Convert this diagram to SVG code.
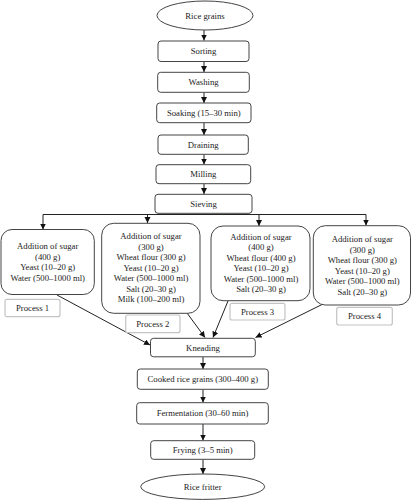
<svg xmlns="http://www.w3.org/2000/svg" width="412" height="500" viewBox="0 0 412 500">
<defs>
<marker id="ah" markerUnits="userSpaceOnUse" markerWidth="7" markerHeight="7" refX="6" refY="3" orient="auto">
<path d="M0,0 L6,3 L0,6 z" fill="#111"/>
</marker>
<style>
.bg{fill:#fff}
.step{fill:#fff;stroke:#444;stroke-width:1}
.ing{fill:#fff;stroke:#444;stroke-width:1}
.proc{fill:#fff;stroke:#c4c4c4;stroke-width:1.2}
text{font-family:"Liberation Serif","Times New Roman",serif;font-size:8.7px;fill:#222;text-anchor:middle}
.con line,.con polyline{stroke:#222;stroke-width:1;fill:none}
.con .a{marker-end:url(#ah)}
</style>
</defs>
<rect class="bg" x="0" y="0" width="412" height="500"/>

<g class="con" id="connectors">
<line class="a" x1="204" y1="30" x2="204" y2="40.5"/>
<line class="a" x1="204" y1="61.5" x2="204" y2="72"/>
<line class="a" x1="204" y1="92.5" x2="204" y2="103"/>
<line class="a" x1="204" y1="122.5" x2="204" y2="135"/>
<line class="a" x1="204" y1="154.5" x2="204" y2="164.5"/>
<line class="a" x1="204" y1="183.5" x2="204" y2="194"/>
<line x1="43" y1="214.5" x2="366" y2="214.5"/>
<line class="a" x1="43" y1="214.5" x2="43" y2="229.5"/>
<line class="a" x1="147.5" y1="214.5" x2="147.5" y2="223"/>
<line class="a" x1="259" y1="214.5" x2="259" y2="226"/>
<line class="a" x1="366" y1="214.5" x2="366" y2="225.5"/>
<line class="a" x1="57" y1="295" x2="150" y2="345"/>
<line class="a" x1="187" y1="313" x2="205" y2="337.5"/>
<line class="a" x1="228" y1="301" x2="213" y2="337.5"/>
<line class="a" x1="322" y1="304.5" x2="255.5" y2="337.5"/>
<line class="a" x1="203" y1="357" x2="203" y2="369"/>
<line class="a" x1="203" y1="389.5" x2="203" y2="402.5"/>
<line class="a" x1="203" y1="424" x2="203" y2="440.5"/>
<line class="a" x1="203" y1="459.5" x2="203" y2="474"/>
</g>

<g id="rice-grains"><ellipse class="step" cx="205" cy="15.5" rx="48" ry="14.5"/><text x="205" y="18.5">Rice grains</text></g>
<g id="sorting"><rect class="step" x="158" y="41" width="91" height="20.5" rx="3"/><text x="203.5" y="54.2">Sorting</text></g>
<g id="washing"><rect class="step" x="157.7" y="72.3" width="91.6" height="20" rx="3"/><text x="203.5" y="85.3">Washing</text></g>
<g id="soaking"><rect class="step" x="156.7" y="103" width="94.3" height="19.7" rx="3"/><text x="203.8" y="115.8">Soaking (15–30 min)</text></g>
<g id="draining"><rect class="step" x="158" y="135" width="90.3" height="19.3" rx="3"/><text x="203.2" y="147.6">Draining</text></g>
<g id="milling"><rect class="step" x="156" y="164.7" width="94.7" height="19" rx="3"/><text x="203.3" y="177.2">Milling</text></g>
<g id="sieving"><rect class="step" x="155" y="194.3" width="97" height="19" rx="3"/><text x="203.5" y="206.8">Sieving</text></g>

<g id="mix1"><rect class="ing" x="1" y="229.5" width="93.3" height="65" rx="11"/>
<text x="47.7" y="249">Addition of sugar</text>
<text x="47.7" y="259.5">(400 g)</text>
<text x="47.7" y="270">Yeast (10–20 g)</text>
<text x="47.7" y="280.5">Water (500–1000 ml)</text></g>
<g id="process1"><rect class="proc" x="5" y="299.3" width="55" height="17.4" rx="2"/><text x="32.5" y="311">Process 1</text></g>

<g id="mix2"><rect class="ing" x="101.7" y="223.3" width="98.3" height="90" rx="12"/>
<text x="151" y="239">Addition of sugar</text>
<text x="151" y="249.5">(300 g)</text>
<text x="151" y="260">Wheat flour (300 g)</text>
<text x="151" y="270.5">Yeast (10–20 g)</text>
<text x="151" y="281">Water (500–1000 ml)</text>
<text x="151" y="291.5">Salt (20–30 g)</text>
<text x="151" y="302">Milk (100–200 ml)</text></g>
<g id="process2"><rect class="proc" x="125.7" y="315" width="54.3" height="17.7" rx="2"/><text x="152.8" y="326.8">Process 2</text></g>

<g id="mix3"><rect class="ing" x="211" y="226" width="99" height="74.7" rx="12"/>
<text x="261" y="239.5">Addition of sugar</text>
<text x="261" y="250">(400 g)</text>
<text x="261" y="260.5">Wheat flour (400 g)</text>
<text x="261" y="271">Yeast (10–20 g)</text>
<text x="261" y="281.5">Water (500–1000 ml)</text>
<text x="261" y="292">Salt (20–30 g)</text></g>
<g id="process3"><rect class="proc" x="230" y="303.3" width="55" height="16.7" rx="2"/><text x="257.5" y="314.8">Process 3</text></g>

<g id="mix4"><rect class="ing" x="313.3" y="225.7" width="97.2" height="79.3" rx="12"/>
<text x="362.3" y="242">Addition of sugar</text>
<text x="362.3" y="252.5">(300 g)</text>
<text x="362.3" y="263">Wheat flour (300 g)</text>
<text x="362.3" y="273.5">Yeast (10–20 g)</text>
<text x="362.3" y="284">Water (500–1000 ml)</text>
<text x="362.3" y="294.5">Salt (20–30 g)</text></g>
<g id="process4"><rect class="proc" x="336.7" y="307.3" width="55.6" height="17.7" rx="2"/><text x="364.5" y="319.1">Process 4</text></g>

<g id="kneading"><rect class="step" x="150.5" y="338.3" width="104.8" height="18.5" rx="3"/><text x="203" y="350.6">Kneading</text></g>
<g id="cooked"><rect class="step" x="137.3" y="369" width="131" height="20.3" rx="3"/><text x="202.8" y="382.2">Cooked rice grains (300–400 g)</text></g>
<g id="fermentation"><rect class="step" x="136.7" y="402.7" width="131.6" height="21.3" rx="3"/><text x="202.5" y="416.4">Fermentation (30–60 min)</text></g>
<g id="frying"><rect class="step" x="150.7" y="440.7" width="104" height="18.6" rx="3"/><text x="202.7" y="453">Frying (3–5 min)</text></g>
<g id="rice-fritter"><ellipse class="step" cx="202.7" cy="486.7" rx="62" ry="12.7"/><text x="202.7" y="489.8">Rice fritter</text></g>
</svg>
